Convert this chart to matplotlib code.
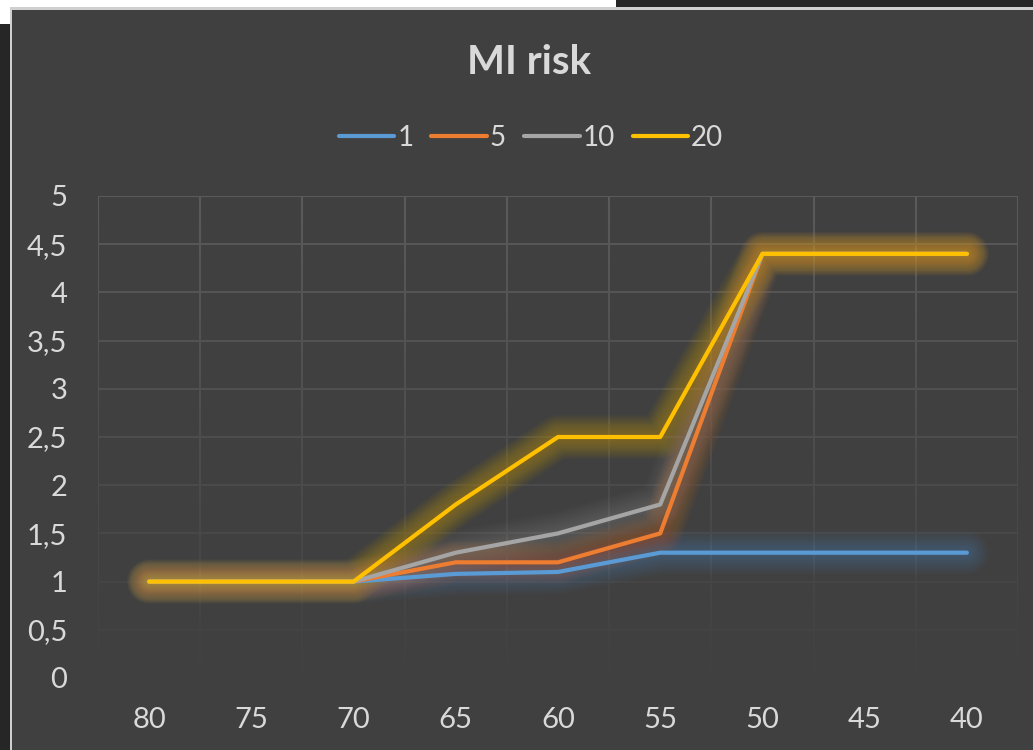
import numpy as np
import matplotlib
matplotlib.use("Agg")
import matplotlib.pyplot as plt
from matplotlib.patches import Rectangle
from matplotlib.lines import Line2D
from matplotlib.collections import LineCollection
from matplotlib.colors import to_rgb

# Age thresholds (categories) and risk values per series
ages = ["80", "75", "70", "65", "60", "55", "50", "45", "40"]
series_names = ["1", "5", "10", "20"]
risk_1 = [1, 1, 1, 1.08, 1.1, 1.3, 1.3, 1.3, 1.3]
risk_5 = [1, 1, 1, 1.2, 1.2, 1.5, 4.4, 4.4, 4.4]
risk_10 = [1, 1, 1, 1.3, 1.5, 1.8, 4.4, 4.4, 4.4]
risk_20 = [1, 1, 1, 1.8, 2.5, 2.5, 4.4, 4.4, 4.4]
series_values = [risk_1, risk_5, risk_10, risk_20]
series_colors = ["#5B9BD5", "#ED7D31", "#A5A5A5", "#FFC000"]
y_ticks = [0, 0.5, 1, 1.5, 2, 2.5, 3, 3.5, 4, 4.5, 5]

BG = "#404040"
GRID = "#5A5A5A"
TEXT = "#D9D9D9"
FONT = ["Lato", "DejaVu Sans"]

W, H = 1033, 750
fig = plt.figure(figsize=(W / 100, H / 100), dpi=100, facecolor=BG)

# Surroundings of the chart panel (pixel coordinates, origin top-left)
def px_rect(x0, y0, x1, y1, color, z=0):
    fig.patches.append(Rectangle((x0 / W, 1 - y1 / H), (x1 - x0) / W, (y1 - y0) / H,
                                 transform=fig.transFigure, facecolor=color,
                                 edgecolor="none", zorder=z))

px_rect(0, 0, 616, 8, "white")
px_rect(0, 0, 10, 24, "white")
px_rect(0, 24, 10, H, "#262626")
px_rect(616, 0, W, 7, "#262626")
px_rect(10, 7, W, 9.5, "#CFCFCF")
px_rect(10, 7, 11.5, H, "#CFCFCF")

ax = fig.add_axes([98 / W, 72 / H, 920 / W, 482 / H])
ax.set_facecolor(BG)
n = len(ages)
x = np.arange(n)
ymax = 5
ax.set_xlim(-0.5, n - 0.5)
ax.set_ylim(0, ymax)

# Gridlines fade out toward the bottom of the plot
bg_rgb = np.array(to_rgb(BG))
grid_rgb = np.array(to_rgb(GRID))

def grid_color(v):
    f = np.clip(v / ymax, 0, 1)
    return tuple(bg_rgb + (grid_rgb - bg_rgb) * f)

for v in y_ticks[1:]:
    ax.axhline(v, color=grid_color(v), lw=1.5, zorder=0.5)

edges = np.linspace(0, ymax, 121)
segs, cols = [], []
for b in np.arange(-0.5, n, 1.0):
    for y0, y1 in zip(edges[:-1], edges[1:]):
        segs.append([(b, y0), (b, y1)])
        cols.append(grid_color((y0 + y1) / 2))
ax.add_collection(LineCollection(segs, colors=cols, linewidths=1.5, zorder=0.5,
                                 capstyle="butt"))

# Series with soft glow
glow_widths = np.linspace(32, 4, 22)
for vals, col in zip(series_values, series_colors):
    for w in glow_widths:
        ax.plot(x, vals, color=col, lw=w, alpha=0.02, solid_capstyle="round",
                solid_joinstyle="round", zorder=2)
    ax.plot(x, vals, color=col, lw=3, solid_capstyle="round",
            solid_joinstyle="round", zorder=3)

for s in ax.spines.values():
    s.set_visible(False)
ax.set_xticks(x)
ax.set_xticklabels(ages)
ax.set_yticks(y_ticks)
ax.set_yticklabels([f"{v:g}".replace(".", ",") for v in y_ticks])
ax.tick_params(axis="both", length=0, colors=TEXT, labelsize=21)
ax.tick_params(axis="y", pad=22)
ax.tick_params(axis="x", pad=21)
for lab in ax.get_xticklabels() + ax.get_yticklabels():
    lab.set_family(FONT)

fig.text(529 / W, 1 - 63 / H, "MI risk", ha="center", va="center",
         fontsize=29, fontweight="bold", color=TEXT, family=FONT)

handles = [Line2D([], [], color=c, lw=3, solid_capstyle="round") for c in series_colors]
leg = fig.legend(handles, series_names, loc="center", bbox_to_anchor=(531 / W, 1 - 138 / H),
                 ncol=4, frameon=False, handlelength=2.0,
                 handletextpad=0.1, columnspacing=0.65,
                 prop={"family": FONT, "size": 20})
for t in leg.get_texts():
    t.set_color(TEXT)

fig.savefig("out.png", dpi=100, facecolor=BG)
